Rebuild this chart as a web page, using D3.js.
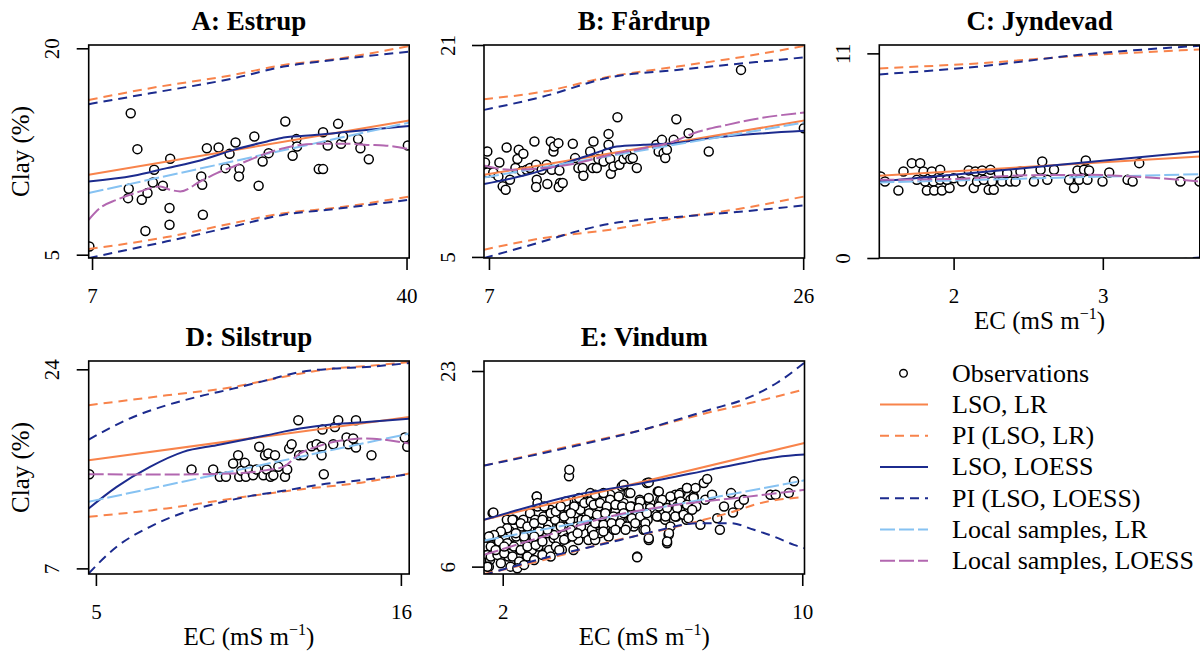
<!DOCTYPE html>
<html>
<head>
<meta charset="utf-8">
<script src="https://cdn.jsdelivr.net/npm/d3@7"></script>
<style>
  body { margin: 0; background: #fff; }
  svg text { font-family: "Liberation Serif", "Times New Roman", Times, "Nimbus Roman", "DejaVu Serif", serif !important; }
</style>
</head>
<body>
<svg id="chart" width="1200" height="651"></svg>
<script>
const panelTitles = ["A: Estrup", "B: Fårdrup", "C: Jyndevad", "D: Silstrup", "E: Vindum"];
const xDomains = [[6.65, 40.28], [6.7, 26.08], [1.502, 3.65], [4.74, 16.3], [1.5, 10.06]];
const yDomains = [[4.76, 20.24], [4.92, 21.0], [0, 11.45], [6.52, 24.71], [5.36, 23.87]];
const xTicks = [[7, 40], [7, 26], [2, 3], [5, 16], [2, 10]];
const yTicks = [[5, 20], [5, 21], [0, 11], [7, 24], [6, 23]];

const obsA = [
  [6.72, 5.6], [11.06, 15.28], [11.76, 12.67], [10.85, 9.79], [10.78, 9.11], [12.22, 8.99],
  [12.82, 9.48], [13.38, 10.25], [13.52, 11.17], [14.43, 10.01], [12.6, 6.72], [15.13, 8.39],
  [15.13, 7.18], [15.2, 11.97], [18.46, 10.69], [18.56, 10.08], [18.63, 7.9], [19.05, 12.74],
  [20.28, 12.79], [21.01, 11.29], [21.43, 12.33], [22.06, 13.15], [22.48, 11.22], [22.41, 10.69],
  [24.03, 13.59], [24.48, 10.01], [24.9, 11.77], [25.53, 12.38], [27.28, 14.68], [28.05, 12.19],
  [28.44, 13.4], [28.51, 12.86], [30.79, 11.22], [31.24, 11.22], [31.24, 13.9], [31.73, 12.94],
  [32.82, 14.51], [33.13, 13.06], [33.34, 13.59], [34.92, 13.4], [35.16, 12.74], [36.04, 11.94],
  [40.14, 12.94]
];
const obsB = [
  [6.9, 12.96], [6.76, 12.13], [6.9, 11.38], [7.26, 11.38], [7.63, 12.13], [7.57, 11.08],
  [7.83, 10.33], [8.01, 10.07], [8.07, 13.26], [8.27, 10.83], [8.6, 11.71], [8.72, 12.39],
  [8.8, 13.09], [9.08, 12.79], [8.98, 11.46], [9.28, 11.58], [9.48, 11.71], [9.75, 13.72],
  [9.85, 11.96], [9.89, 10.83], [9.85, 10.28], [10.19, 11.58], [10.49, 11.96], [10.53, 10.5],
  [10.74, 13.72], [10.8, 11.58], [10.9, 12.96], [10.94, 13.34], [11.2, 13.59], [11.26, 11.53],
  [11.3, 10.58], [11.22, 10.28], [11.46, 10.58], [12.07, 13.54], [12.21, 12.46], [12.41, 11.71],
  [12.67, 11.71], [12.71, 11.13], [13.12, 12.96], [13.32, 13.72], [13.28, 11.71], [13.52, 11.71],
  [13.62, 12.39], [13.93, 12.21], [14.23, 14.29], [14.23, 13.47], [14.13, 12.84], [14.33, 12.39],
  [14.37, 11.28], [14.53, 11.83], [14.77, 15.55], [14.89, 11.96], [15.14, 12.39], [15.34, 12.71],
  [15.54, 12.39], [15.7, 12.46], [15.94, 11.71], [17.12, 13.47], [17.26, 12.96], [17.46, 13.84],
  [17.56, 12.84], [17.66, 12.46], [17.76, 13.09], [18.17, 13.84], [18.33, 15.4], [19.07, 14.34],
  [20.29, 12.96], [22.24, 19.12], [26.04, 14.72]
];
const obsC = [
  [1.511, 4.38], [1.54, 4.11], [1.63, 3.63], [1.664, 4.65], [1.72, 5.1], [1.776, 5.1],
  [1.753, 4.2], [1.798, 4.65], [1.809, 4.11], [1.821, 3.63], [1.854, 4.65], [1.865, 4.11],
  [1.87, 3.63], [1.91, 4.74], [1.922, 3.63], [1.91, 4.2], [1.973, 3.76], [1.955, 4.2],
  [2.0, 4.29], [2.056, 4.11], [2.101, 4.71], [2.135, 3.76], [2.146, 4.65], [2.157, 4.11],
  [2.191, 4.71], [2.202, 4.2], [2.235, 3.67], [2.247, 4.74], [2.258, 4.11], [2.269, 3.67],
  [2.303, 4.56], [2.325, 4.11], [2.359, 4.56], [2.381, 4.11], [2.415, 4.11], [2.448, 4.65],
  [2.538, 4.11], [2.583, 4.74], [2.594, 5.19], [2.628, 4.2], [2.673, 4.74], [2.774, 4.2],
  [2.807, 3.76], [2.83, 4.71], [2.841, 4.2], [2.874, 4.74], [2.886, 5.24], [2.897, 4.2],
  [2.908, 4.71], [2.998, 4.11], [3.043, 4.6], [3.166, 4.2], [3.2, 4.11], [3.244, 5.1],
  [3.52, 4.11], [3.648, 4.11]
];
const obsD = [
  [4.76, 15.04], [8.45, 15.44], [9.23, 15.44], [9.47, 14.82], [9.69, 14.82], [9.95, 15.95],
  [10.13, 16.66], [10.17, 14.82], [10.25, 15.33], [10.37, 16.01], [10.41, 14.82], [10.55, 15.44],
  [10.67, 14.96], [10.79, 15.44], [10.89, 17.38], [11.04, 14.96], [11.1, 16.66], [11.16, 15.44],
  [11.22, 16.81], [11.3, 14.82], [11.4, 14.96], [11.46, 16.66], [11.58, 15.67], [11.82, 14.82],
  [11.9, 15.44], [11.97, 17.23], [12.06, 17.6], [12.3, 19.65], [12.33, 16.66], [12.48, 16.66],
  [12.78, 17.43], [12.96, 17.6], [13.14, 17.38], [13.14, 16.66], [13.17, 18.85], [13.22, 15.04],
  [13.56, 17.6], [13.62, 19.08], [13.74, 19.65], [14.04, 18.17], [14.1, 17.6], [14.28, 18.09],
  [14.38, 19.65], [14.38, 17.32], [14.94, 16.66], [16.14, 18.17], [16.23, 17.38]
];
const obsE = [
  [1.66, 8.62], [1.55, 7.74], [1.59, 7.02], [1.73, 10.65], [1.66, 6.58], [1.82, 7.16],
  [1.86, 8.18], [1.93, 8.91], [1.97, 7.45], [2.06, 8.47], [2.11, 10.07], [2.15, 6.87],
  [2.2, 7.89], [2.2, 9.05], [2.29, 10.07], [2.36, 8.62], [2.39, 6.0], [2.46, 7.45],
  [2.51, 9.49], [2.55, 10.07], [2.6, 8.32], [2.64, 6.87], [2.71, 9.2], [2.73, 10.65],
  [2.78, 7.45], [2.82, 8.62], [2.87, 10.07], [2.91, 12.1], [2.93, 11.23], [2.95, 7.74],
  [2.98, 9.49], [3.04, 8.32], [3.09, 10.36], [3.13, 7.16], [3.18, 8.91], [3.22, 9.63],
  [3.27, 10.94], [3.31, 7.45], [3.36, 8.47], [3.4, 10.07], [3.45, 9.2], [3.49, 8.32],
  [3.53, 10.65], [3.58, 7.45], [3.62, 9.49], [3.67, 11.23], [3.71, 8.47], [3.77, 13.85],
  [3.78, 14.43], [3.8, 10.07], [3.85, 8.91], [3.89, 7.45], [3.94, 10.65], [3.98, 11.81],
  [3.98, 9.49], [4.02, 8.32], [4.07, 10.94], [4.11, 10.07], [4.16, 8.91], [4.2, 11.67],
  [4.25, 10.07], [4.29, 8.32], [4.34, 12.39], [4.38, 9.2], [4.43, 10.65], [4.47, 8.32],
  [4.52, 9.78], [4.56, 11.23], [4.6, 8.91], [4.65, 10.36], [4.69, 11.67], [4.74, 9.49],
  [4.78, 10.94], [4.83, 8.62], [4.87, 12.25], [4.87, 10.07], [4.96, 9.2], [5.01, 10.79],
  [5.05, 11.67], [5.1, 9.78], [5.14, 10.36], [5.18, 12.97], [5.23, 11.52], [5.27, 9.49],
  [5.32, 10.65], [5.36, 12.39], [5.41, 10.07], [5.45, 11.23], [5.5, 9.49], [5.59, 6.87],
  [5.6, 10.65], [5.66, 11.81], [5.68, 10.07], [5.72, 11.23], [5.76, 9.2], [5.85, 13.27],
  [5.87, 10.07], [5.9, 8.32], [5.94, 11.52], [6.03, 10.79], [6.14, 12.54], [6.17, 10.36],
  [6.21, 11.81], [6.3, 10.79], [6.34, 10.07], [6.39, 8.03], [6.43, 8.76], [6.48, 9.49],
  [6.52, 10.79], [6.57, 11.67], [6.61, 12.25], [6.64, 10.36], [6.66, 11.23], [6.75, 12.39],
  [6.79, 11.52], [6.91, 10.07], [6.92, 12.83], [6.97, 10.94], [7.01, 11.81], [7.1, 12.1],
  [7.15, 12.83], [7.17, 11.23], [7.28, 9.63], [7.37, 13.27], [7.41, 11.81], [7.46, 13.61],
  [7.59, 12.25], [7.73, 10.21], [7.8, 9.2], [7.91, 11.23], [8.1, 12.39], [8.15, 10.71],
  [8.31, 11.38], [8.44, 11.81], [9.15, 12.25], [9.29, 12.25], [9.64, 12.39], [9.78, 13.41],
  [1.58, 5.71], [1.63, 6.0],
  [1.75, 10.71], [2.91, 12.1], [2.93, 11.52], [2.26, 10.07], [2.48, 9.78], [2.66, 9.49],
  [2.84, 9.78], [3.06, 10.07], [3.28, 10.65], [3.42, 10.8], [3.64, 10.36], [3.91, 11.23],
  [4.04, 11.96], [4.18, 11.52], [4.31, 10.65], [4.22, 10.07], [4.09, 9.49], [3.82, 9.2],
  [3.55, 9.49], [3.37, 8.76], [3.19, 9.2], [2.97, 9.05], [2.75, 8.76], [2.57, 8.62],
  [2.35, 8.91], [2.12, 9.34], [1.95, 9.05], [1.77, 8.76], [1.63, 8.62], [1.68, 7.74],
  [1.9, 8.18], [2.12, 8.03], [2.3, 7.74], [2.48, 7.45], [2.66, 7.74], [2.88, 7.89],
  [3.06, 8.18], [3.24, 7.45], [3.42, 7.74], [3.64, 8.33], [3.86, 8.62], [4.0, 8.91],
  [1.68, 6.87], [1.86, 7.02], [2.04, 7.16], [2.26, 6.87], [2.44, 6.44], [2.66, 6.87],
  [2.84, 6.58], [3.06, 7.02], [3.28, 6.87], [3.51, 7.45], [1.59, 6.0], [1.95, 6.29],
  [2.21, 6.0], [2.39, 5.85], [2.57, 6.15], [2.04, 7.74], [1.81, 7.45], [2.84, 8.62],
  [3.69, 11.67], [3.82, 10.65], [4.35, 11.67], [3.55, 11.23], [3.11, 11.23],
  [5.23, 13.12], [5.9, 13.32], [4.47, 12.25], [4.69, 12.39], [4.87, 11.81], [5.1, 12.1],
  [5.41, 12.39], [5.67, 11.67], [5.9, 11.96], [6.17, 12.54], [6.26, 11.81], [6.48, 12.1],
  [6.71, 12.25], [6.75, 11.67], [6.92, 12.83], [7.1, 11.96], [4.43, 11.38], [4.6, 11.52],
  [4.78, 11.23], [5.01, 11.38], [5.19, 11.23], [5.41, 11.23], [5.63, 11.09], [5.94, 11.09],
  [6.17, 11.23], [6.39, 11.09], [6.66, 11.09], [6.92, 11.38], [7.06, 10.94], [4.52, 10.5],
  [4.74, 10.65], [4.96, 10.36], [5.23, 10.65], [5.45, 10.21], [5.67, 10.36], [5.85, 10.65],
  [6.12, 10.36], [6.35, 10.36], [6.61, 10.36], [6.83, 10.5], [4.47, 9.78], [4.69, 9.63],
  [4.91, 9.78], [5.14, 9.78], [5.32, 9.49], [5.54, 9.78], [5.81, 9.78], [4.43, 8.76],
  [4.69, 9.05], [5.01, 9.2], [5.28, 9.2], [5.81, 9.2], [5.9, 8.47], [6.44, 8.91],
  [6.39, 8.18], [5.59, 6.81], [6.96, 10.21]
];
const observations = [obsA, obsB, obsC, obsD, obsE];

// fitted curves, one list per panel (A..E)
const lsoLR = [
  [[6.65, 10.81], [40.28, 14.75]],
  [[6.7, 11.2], [26.08, 15.3]],
  [[1.502, 4.42], [3.65, 5.46]],
  [[4.74, 16.24], [16.3, 19.93]],
  [[1.5, 10.07], [10.06, 16.75]]
];
const piLsoLRUpper = [
  [[6.65, 16.25], [13.1, 17.1], [21.85, 18.07], [27.11, 18.79], [32.36, 19.2], [40.28, 20.17]],
  [[6.7, 16.91], [10.29, 17.48], [14.33, 18.62], [18.37, 19.37], [22.41, 20.12], [26.08, 20.93]],
  [[1.502, 10.19], [2.157, 10.46], [2.83, 10.86], [3.65, 11.21]],
  [[4.74, 20.93], [7.55, 21.78], [9.95, 22.49], [11.16, 23.06], [12.36, 23.63], [13.56, 24.06], [14.76, 24.28], [16.3, 24.62]],
  [[1.5, 14.78], [3.98, 16.61], [5.76, 17.91], [7.55, 19.43], [8.44, 20.09], [10.06, 21.4]]
];
const piLsoLRLower = [
  [[6.65, 5.41], [14.85, 6.28], [21.85, 7.3], [27.11, 8.02], [32.36, 8.39], [40.28, 9.23]],
  [[6.7, 5.55], [10.29, 6.43], [14.33, 7.06], [18.37, 7.94], [22.41, 8.69], [26.08, 9.57]],
  [[1.502, -1.35], [3.65, -0.3]],
  [[4.74, 11.41], [7.55, 12.12], [9.95, 12.97], [12.36, 13.74], [14.76, 14.39], [16.3, 15.1]],
  [[1.5, 5.36], [3.09, 6.58], [4.87, 8.18], [6.3, 9.2], [7.37, 10.07], [8.17, 10.79], [8.88, 11.52], [10.06, 12.04]]
];
const lsoLoess = [
  [[6.65, 10.32], [11.34, 10.73], [14.85, 11.29], [18.35, 11.85], [21.85, 12.62], [25.36, 13.23], [27.11, 13.52], [30.61, 13.71], [34.12, 13.95], [40.28, 14.36]],
  [[6.7, 10.5], [9.28, 11.2], [11.3, 11.96], [13.32, 12.79], [14.73, 13.34], [16.35, 13.47], [18.17, 13.59], [20.39, 13.97], [22.41, 14.22], [26.08, 14.52]],
  [[1.502, 4.11], [2.5, 4.85], [3.65, 5.72]],
  [[4.74, 12.12], [5.75, 13.96], [6.95, 15.67], [8.15, 16.95], [9.35, 17.52], [11.16, 18.37], [12.36, 18.94], [13.56, 19.31], [14.76, 19.51], [16.3, 19.79]],
  [[1.5, 10.07], [3.98, 12.25], [5.76, 13.27], [7.55, 14.43], [8.44, 15.01], [9.33, 15.53], [10.06, 15.74]]
];
const piLsoLoessUpper = [
  [[6.65, 15.94], [13.1, 16.73], [21.85, 17.82], [27.11, 18.67], [32.36, 19.15], [40.28, 19.76]],
  [[6.7, 16.1], [10.29, 17.11], [14.33, 18.56], [18.37, 19.12], [22.41, 19.62], [26.08, 20.07]],
  [[1.502, 9.87], [2.157, 10.28], [2.83, 10.91], [3.65, 11.41]],
  [[4.74, 18.0], [6.35, 19.93], [7.55, 20.93], [8.75, 21.7], [9.95, 22.35], [11.16, 23.06], [12.36, 23.77], [13.56, 24.06], [14.76, 24.2], [16.3, 24.54]],
  [[1.5, 14.78], [3.98, 16.52], [5.76, 17.91], [7.55, 19.66], [8.44, 20.53], [9.33, 21.98], [10.06, 23.73]]
];
const piLsoLoessLower = [
  [[6.65, 4.76], [14.85, 5.97], [21.85, 7.06], [27.11, 7.9], [32.36, 8.31], [40.28, 8.99]],
  [[6.7, 4.92], [10.29, 6.18], [12.31, 6.93], [14.33, 7.51], [16.35, 7.81], [18.37, 8.02], [22.41, 8.44], [26.08, 8.89]],
  [[1.502, -1.65], [2.157, -1.2], [2.83, -0.6], [3.65, 0.03]],
  [[4.74, 6.57], [5.75, 8.85], [6.95, 10.55], [8.15, 11.75], [9.35, 12.54], [10.55, 13.17], [11.76, 13.62], [12.96, 14.11], [14.76, 14.59], [16.3, 15.04]],
  [[1.5, 5.27], [3.09, 6.73], [5.14, 8.32], [6.03, 9.05], [7.28, 9.78], [8.08, 9.78], [8.71, 9.2], [9.24, 8.62], [9.78, 7.89], [10.06, 7.6]]
];
const localLR = [
  [[6.65, 9.48], [40.28, 14.6]],
  [[6.7, 11.0], [26.08, 15.15]],
  [[1.502, 4.06], [3.65, 4.51]],
  [[4.74, 12.69], [16.3, 18.51]],
  [[1.5, 8.27], [10.06, 13.5]]
];
const localLoess = [
  [[6.65, 7.54], [7.84, 8.39], [9.59, 8.99], [12.04, 9.6], [14.15, 9.96], [15.2, 9.72], [16.25, 9.6], [18.35, 10.32], [20.1, 10.93], [21.85, 11.41], [25.36, 12.38], [27.11, 12.74], [28.86, 12.98], [30.61, 13.06], [32.36, 13.06], [34.12, 13.06], [35.87, 12.98], [37.62, 12.94], [40.28, 12.67]],
  [[6.7, 11.91], [8.27, 11.58], [10.29, 11.71], [12.31, 12.08], [14.33, 12.71], [16.35, 13.21], [18.17, 13.72], [19.38, 14.34], [21.4, 14.97], [23.41, 15.48], [26.08, 15.9]],
  [[1.502, 4.2], [2.0, 4.25], [2.5, 4.45], [2.9, 4.47], [3.2, 4.38], [3.65, 4.11]],
  [[4.74, 15.04], [7.55, 15.02], [9.95, 15.1], [11.16, 15.39], [11.76, 15.67], [12.36, 16.81], [12.96, 17.38], [13.56, 17.8], [14.16, 18.0], [14.76, 18.09], [15.36, 18.0], [16.3, 17.66]],
  [[1.5, 7.02], [3.09, 8.62], [4.87, 10.36], [6.66, 11.38], [8.44, 12.04], [10.06, 12.68]]
];

const seriesNames = ["LSO, LR", "PI (LSO, LR)", "LSO, LOESS", "PI (LSO, LOESS)", "Local samples, LR", "Local samples, LOESS"];

const orange = "#f8834b", navy = "#1c2b8e", skyblue = "#86c2f2", purple = "#b267b0";
const seriesStyles = [
  { color: orange, dash: null },
  { color: orange, dash: "9,6" },
  { color: navy, dash: null },
  { color: navy, dash: "9,6" },
  { color: skyblue, dash: "15,4" },
  { color: purple, dash: "15,4" }
];
const seriesData = [
  [lsoLR],
  [piLsoLRUpper, piLsoLRLower],
  [lsoLoess],
  [piLsoLoessUpper, piLsoLoessLower],
  [localLR],
  [localLoess]
];

const serif = "'Liberation Serif', 'Times New Roman', Times, 'Nimbus Roman', 'DejaVu Serif', serif";
const svg = d3.select("#chart").attr("font-family", serif);
const panelW = 320.5, panelH = 213;
const colLeft = [88.7, 484, 879.3];
const rowTop = [45, 361];

panelTitles.forEach((title, i) => {
  const left = colLeft[i % 3], top = rowTop[Math.floor(i / 3)];
  const x = d3.scaleLinear().domain(xDomains[i]).range([left, left + panelW]);
  const y = d3.scaleLinear().domain(yDomains[i]).range([top + panelH, top]);
  const g = svg.append("g");

  g.append("clipPath").attr("id", "clip" + i)
    .append("rect").attr("x", left).attr("y", top).attr("width", panelW).attr("height", panelH);
  const plot = g.append("g").attr("clip-path", `url(#clip${i})`);

  plot.selectAll("circle")
    .data(observations[i])
    .join("circle")
    .attr("cx", (d) => x(d[0]))
    .attr("cy", (d) => y(d[1]))
    .attr("r", 4.5)
    .attr("fill", "#fff")
    .attr("stroke", "#000")
    .attr("stroke-width", 1.5);

  const line = d3.line().x((d) => x(d[0])).y((d) => y(d[1])).curve(d3.curveMonotoneX);
  seriesData.forEach((group, s) => {
    group.forEach((arr) => {
      plot.append("path")
        .attr("d", line(arr[i]))
        .attr("fill", "none")
        .attr("stroke", seriesStyles[s].color)
        .attr("stroke-width", 2)
        .attr("stroke-dasharray", seriesStyles[s].dash);
    });
  });

  g.append("rect")
    .attr("x", left).attr("y", top).attr("width", panelW).attr("height", panelH)
    .attr("fill", "none").attr("stroke", "#000").attr("stroke-width", 1.6);

  // axes drawn R-style
  const xa = g.append("g").attr("transform", `translate(0,${top + panelH})`)
    .call(d3.axisBottom(x).tickValues(xTicks[i]).tickSize(12).tickPadding(18).tickFormat(d3.format("d")))
    .attr("font-family", serif);
  xa.select(".domain").remove();
  xa.selectAll("line").attr("stroke-width", 1.6);
  xa.selectAll("text").attr("font-size", 21).attr("fill", "#000");

  const ya = g.append("g").attr("transform", `translate(${left},0)`)
    .call(d3.axisLeft(y).tickValues(yTicks[i]).tickSize(12).tickFormat(d3.format("d")))
    .attr("font-family", serif);
  ya.select(".domain").remove();
  ya.selectAll("line").attr("stroke-width", 1.6);
  ya.selectAll("text")
    .attr("font-size", 21).attr("fill", "#000")
    .attr("text-anchor", "middle").attr("dy", null).attr("x", null)
    .attr("transform", "translate(-29.5,0) rotate(-90)");

  g.append("text")
    .attr("x", left + panelW / 2).attr("y", top - 15)
    .attr("text-anchor", "middle")
    .attr("font-size", 27).attr("font-weight", "bold")
    .text(title);

  if (i % 3 === 0) {
    g.append("text")
      .attr("transform", `translate(${left - 60},${top + panelH / 2}) rotate(-90)`)
      .attr("text-anchor", "middle")
      .attr("font-size", 25)
      .text("Clay (%)");
  }
  if (i >= 2) {
    const t = g.append("text")
      .attr("x", left + panelW / 2).attr("y", top + panelH + 71)
      .attr("text-anchor", "middle")
      .attr("font-size", 25);
    t.append("tspan").text("EC (mS m");
    t.append("tspan").attr("font-size", 16).attr("dy", -10).text("−1");
    t.append("tspan").attr("dy", 10).text(")");
  }
});

// legend
const legendX = 880, legendY = 373.3, legendStep = 31.23;
const legend = svg.append("g").attr("font-size", 26);
legend.append("circle")
  .attr("cx", legendX + 23.5).attr("cy", legendY).attr("r", 3.8)
  .attr("fill", "none").attr("stroke", "#000").attr("stroke-width", 1.4);
legend.append("text").attr("x", legendX + 72).attr("y", legendY + 8.5).text("Observations");
seriesNames.forEach((name, s) => {
  const yy = legendY + legendStep * (s + 1);
  legend.append("line")
    .attr("x1", legendX).attr("x2", legendX + 48)
    .attr("y1", yy).attr("y2", yy)
    .attr("stroke", seriesStyles[s].color).attr("stroke-width", 2)
    .attr("stroke-dasharray", seriesStyles[s].dash);
  legend.append("text").attr("x", legendX + 72).attr("y", yy + 8.5).text(name);
});
</script>
</body>
</html>
